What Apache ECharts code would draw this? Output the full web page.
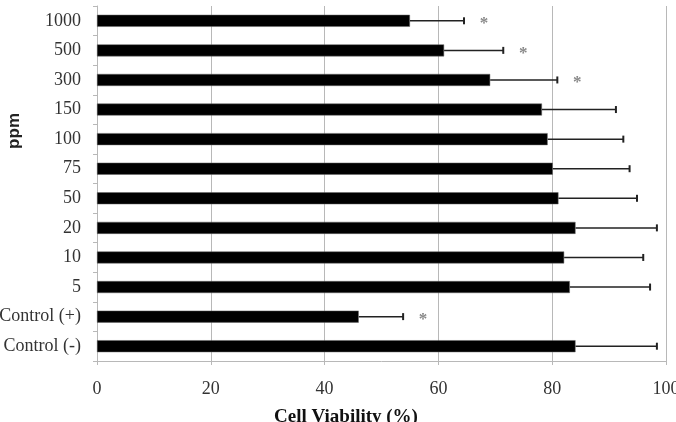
<!DOCTYPE html>
<html><head><meta charset="utf-8">
<script src="https://cdn.jsdelivr.net/npm/echarts@6/dist/echarts.min.js"></script>
<style>html,body{margin:0;padding:0;background:#fff}#c{width:676px;height:422px}</style>
</head><body><div id="c"></div>
<script>
const categories = ['Control (-)','Control (+)','5','10','20','50','75','100','150','300','500','1000'];
const viability = [84.1, 46.0, 83.1, 82.1, 84.1, 81.1, 80.1, 79.2, 78.2, 69.1, 61.0, 55.0];
const errorSD = [14.3, 7.8, 14.1, 13.9, 14.3, 13.8, 13.5, 13.3, 13.0, 11.8, 10.4, 9.5];
const significant = [0, 1, 0, 0, 0, 0, 0, 0, 0, 1, 1, 1];
const xTicks = [0, 20, 40, 60, 80, 100];

const serif = "'Liberation Serif','Times New Roman',serif";
const chart = echarts.init(document.getElementById('c'), null, {renderer:'canvas'});
const errData = categories.map((c,i)=>[viability[i], viability[i]+errorSD[i], i, significant[i]]);

chart.setOption({
  animation:false,
  grid:{left:97, right:10, top:6, bottom:61, containLabel:false, outerBoundsMode:'none'},
  xAxis:{type:'value', min:xTicks[0], max:xTicks[xTicks.length-1], interval:20,
    axisLine:{show:true, lineStyle:{color:'#b8b8b8', width:1}},
    axisTick:{show:true, length:4, lineStyle:{color:'#b8b8b8'}},
    splitLine:{show:true, lineStyle:{color:'#b8b8b8', width:1}},
    axisLabel:{color:'#333', fontFamily:serif, fontSize:18, margin:19}},
  yAxis:{type:'category', data:categories,
    axisLine:{show:true, lineStyle:{color:'#b8b8b8', width:1}},
    axisTick:{show:true, length:4, lineStyle:{color:'#b8b8b8'}},
    axisLabel:{color:'#333', fontFamily:serif, fontSize:18, margin:16}},
  title:{text:'Cell Viability (%)', left:346, top:408, textAlign:'center', padding:0,
    textStyle:{fontFamily:serif, fontSize:19, fontWeight:'bold', color:'#111'}},
  graphic:[{type:'text', left:6, top:113, rotation:Math.PI/2,
    style:{text:'ppm', font:"bold 17px 'Liberation Sans',Arial,sans-serif", fill:'#222'}}],
  series:[
    {type:'bar', data:viability, barWidth:12, itemStyle:{color:'#000', borderColor:'#666', borderWidth:0.5}, silent:true},
    {type:'custom', data:errData, silent:true, z:5,
      renderItem:function(params, api){
        const a = api.coord([api.value(0), api.value(2)]);
        const b = api.coord([api.value(1), api.value(2)]);
        const children = [
          {type:'line', shape:{x1:a[0], y1:a[1], x2:b[0], y2:b[1]}, style:{stroke:'#222', lineWidth:1.5}},
          {type:'line', shape:{x1:b[0], y1:b[1]-3.5, x2:b[0], y2:b[1]+3.5}, style:{stroke:'#222', lineWidth:2}}
        ];
        if (api.value(3)) {
          children.push({type:'text', style:{text:'*', x:b[0]+20, y:b[1]+3, align:'center', verticalAlign:'middle',
            font:"bold 17px 'Liberation Serif',serif", fill:'#888'}});
        }
        return {type:'group', children:children};
      }}
  ]
});
</script></body></html>
